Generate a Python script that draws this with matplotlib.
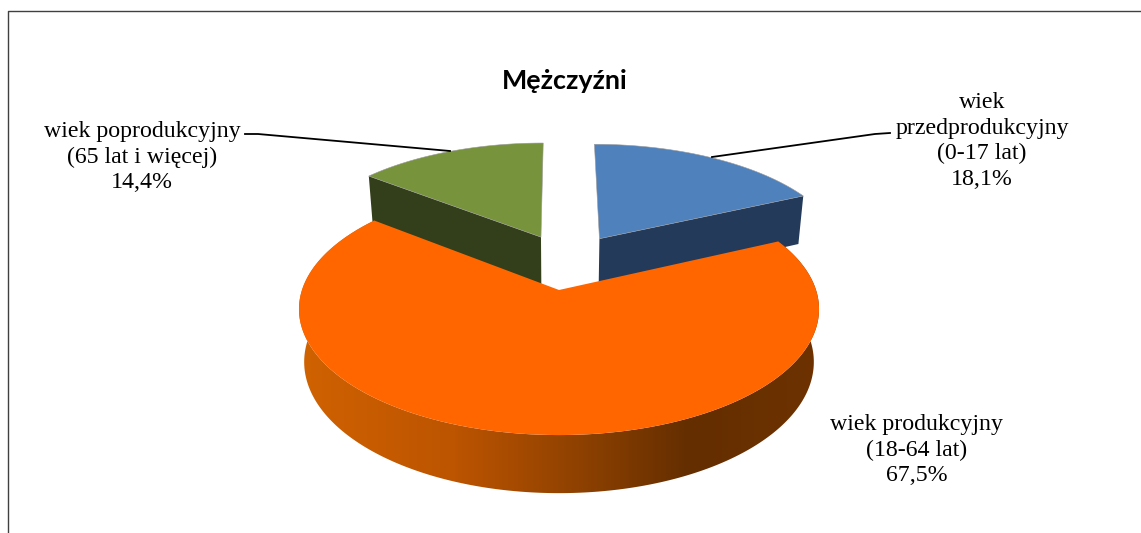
"""Mężczyźni - exploded 3D pie of age groups, drawn by hand on a pixel-sized axes."""
import numpy as np
import matplotlib
matplotlib.use("Agg")
import matplotlib.pyplot as plt
from matplotlib.colors import LinearSegmentedColormap
from matplotlib.patches import Polygon

# data, order is clockwise from 12 o'clock
GROUPS = ["przedprodukcyjny", "produkcyjny", "poprodukcyjny"]
SHARES = [18.1, 67.5, 14.4]
LABELS = ["wiek\nprzedprodukcyjny\n(0-17 lat)\n18,1%",
          "wiek produkcyjny\n(18-64 lat)\n67,5%",
          "wiek poprodukcyjny\n(65 lat i więcej)\n14,4%"]
TITLE = "Mężczyźni"

# styling per slice
TOP_COLORS = ["#4F81BD", "#FF6600", "#77933C"]
WALL_COLORS = ["#233A5A", None, "#333F1A"]
# slice shift in pie-plane units
SHIFT_X = [0.168, 0.0, -0.075]
SHIFT_Y = [0.445, 0.0, 0.46]
LABEL_POS = [(982, 141), (917, 450), (142, 157)]

# projection of the pie plane onto the picture
CX, CY = 559, 290
RX, RY = 257, 123
PERSP = 0.152

WIDTH, HEIGHT = 1141, 533


def project(x, y):
    """Unit pie plane -> pixels, far side gets smaller."""
    den = 1 + PERSP * y
    return CX + RX * x / den, CY - RY * y / den


def drop(px, py):
    """Top face pixels -> same points on the bottom face."""
    up = CY - py
    return CX + 0.98 * (px - CX), CY - 1.042 * up + 52


def wedge_xy(theta1, theta2, sx, sy):
    """Outline of a wedge in pixels, going from theta1 down to theta2."""
    t = np.radians(np.linspace(theta1, theta2, 240))
    x = np.concatenate([[sx], sx + np.cos(t), [sx]])
    y = np.concatenate([[sy], sy + np.sin(t), [sy]])
    return project(x, y)


fig = plt.figure(figsize=(WIDTH / 100, HEIGHT / 100), dpi=100)
fig.patch.set_facecolor("white")
ax = fig.add_axes([0, 0, 1, 1])
ax.axis("off")

# wedge angles from the shares
fractions = np.array(SHARES) / sum(SHARES)
ends = 90 - 360 * np.cumsum(fractions)
starts = np.concatenate([[90], ends[:-1]])

# blue and green go first, the orange slice covers their walls
for i in [0, 2]:
    t1, t2 = starts[i], ends[i]
    sx, sy = SHIFT_X[i], SHIFT_Y[i]
    px, py = wedge_xy(t1, t2, sx, sy)
    # visible wall is the cut edge facing the viewer
    edge = np.radians(t2 if i == 0 else t1)
    ex = np.array([sx, sx + np.cos(edge)])
    ey = np.array([sy, sy + np.sin(edge)])
    ax_, ay_ = project(ex, ey)
    bx_, by_ = drop(ax_, ay_)
    ax.add_patch(Polygon(np.c_[np.r_[ax_, bx_[::-1]], np.r_[ay_, by_[::-1]]],
                         fc=WALL_COLORS[i], ec="none", zorder=2))
    ax.add_patch(Polygon(np.c_[px, py], fc=TOP_COLORS[i], ec="#9a9a9a",
                         lw=0.4, zorder=3))

# orange slice: wall with horizontal gradient, then the top face
t1, t2 = starts[1], ends[1]
t = np.radians(np.linspace(t1, t2, 400))
rim_x, rim_y = project(np.cos(t), np.sin(t))
low_x, low_y = drop(rim_x, rim_y)
wall = Polygon(np.c_[np.r_[rim_x, low_x[::-1]], np.r_[rim_y, low_y[::-1]]],
               fc="none", ec="none", transform=ax.transData)
ax.add_patch(wall)
wall_cmap = LinearSegmentedColormap.from_list(
    "wall", [(0.0, "#D06200"), (0.30, "#BC5400"), (0.55, "#8C4000"),
             (0.75, "#642E00"), (1.0, "#6E3200")])
img = ax.imshow(np.linspace(0, 1, 256)[None, :], cmap=wall_cmap, aspect="auto",
                extent=(rim_x.min(), rim_x.max(), 533, 150), zorder=4)
img.set_clip_path(wall)
px, py = wedge_xy(t1, t2, 0, 0)
ax.add_patch(Polygon(np.c_[px, py], fc=TOP_COLORS[1], ec="none", zorder=5))

ax.set_xlim(0, WIDTH)
ax.set_ylim(HEIGHT, 0)

# leader lines
ax.plot([245, 258, 450], [134, 134, 151], color="black", lw=1.3, zorder=6)
ax.plot([712, 875, 890], [157, 134, 133], color="black", lw=1.3, zorder=6)

# chart frame, only left and top are inside the crop
ax.plot([8, 8, WIDTH], [HEIGHT, 10.5, 10.5], color="#404040", lw=1.0)

for label, (lx, ly) in zip(LABELS, LABEL_POS):
    ax.text(lx, ly, label, ha="center", va="center", family="Liberation Serif",
            fontsize=17.2, linespacing=1.28, color="black", zorder=7)
ax.text(565, 81, TITLE, ha="center", va="center", family="Lato",
        fontweight="bold", fontsize=19.4, color="black", zorder=7)

fig.savefig("out.png", dpi=100, facecolor="white")
plt.close(fig)
